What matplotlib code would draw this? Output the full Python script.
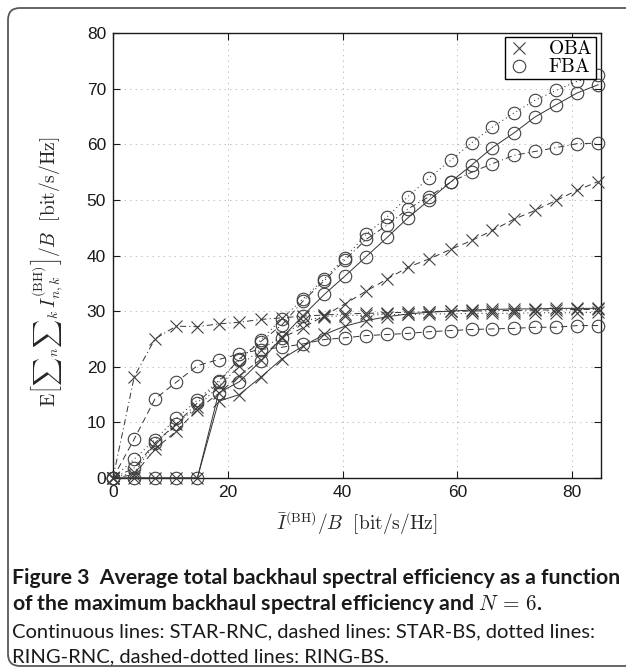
import matplotlib
matplotlib.use("Agg")
import matplotlib.pyplot as plt
from matplotlib.lines import Line2D
from matplotlib.patches import FancyBboxPatch

plt.rcParams["mathtext.fontset"] = "cm"
plt.rcParams["font.family"] = ["Liberation Sans", "DejaVu Sans"]
plt.rcParams["lines.scale_dashes"] = False

# maximum backhaul spectral efficiency [bit/s/Hz]
x_vals = [0, 3.7, 7.3, 11.0, 14.7, 18.4, 22.0, 25.7, 29.4, 33.1, 36.8, 40.4,
          44.1, 47.8, 51.4, 55.1, 58.8, 62.5, 66.1, 69.8, 73.5, 77.2, 80.8, 84.5]

star_rnc_fba = [0, 0, 0, 0, 0, 15.3, 17.3, 21.0, 25.2, 29.2, 33.0, 36.3,
                39.8, 43.3, 46.8, 50.0, 53.2, 56.3, 59.4, 62.0, 64.9, 67.1, 69.2, 70.7]
star_rnc_oba = [0, 0, 0, 0, 0, 13.8, 15.0, 18.1, 21.4, 23.7, 25.8, 27.3,
                28.3, 29.0, 29.5, 29.8, 30.0, 30.2, 30.3, 30.4, 30.4, 30.5, 30.5, 30.5]
star_bs_fba = [0, 7.0, 14.2, 17.2, 20.2, 21.3, 22.3, 23.1, 23.5, 24.1, 24.9, 25.2,
               25.6, 25.8, 26.0, 26.3, 26.5, 26.7, 26.8, 26.9, 27.1, 27.1, 27.4, 27.4]
star_bs_oba = [0, 0.6, 5.2, 8.4, 12.3, 15.2, 18.4, 21.3, 25.2, 27.0, 29.2, 31.3,
               33.6, 35.8, 37.9, 39.4, 41.1, 42.7, 44.5, 46.5, 48.1, 49.9, 51.7, 53.3]
ring_rnc_fba = [0, 3.4, 6.9, 10.7, 14.0, 17.5, 21.2, 24.8, 28.6, 32.2, 35.8, 39.6,
                43.8, 47.0, 50.6, 54.0, 57.1, 60.3, 63.1, 65.6, 67.9, 69.7, 71.3, 72.4]
ring_rnc_oba = [0, 1.0, 6.2, 9.7, 12.8, 16.5, 20.1, 23.1, 25.4, 28.2, 29.0, 29.2,
                29.3, 29.4, 29.4, 29.5, 29.5, 29.6, 29.6, 29.6, 29.7, 29.7, 29.7, 29.8]
ring_bs_fba = [0, 1.8, 6.3, 9.7, 13.5, 17.2, 21.4, 24.5, 27.5, 31.8, 35.5, 39.2,
               42.9, 45.5, 48.4, 50.6, 53.2, 55.0, 56.5, 58.0, 58.7, 59.4, 60.1, 60.2]
ring_bs_oba = [0, 18.2, 25.0, 27.3, 27.2, 27.7, 28.0, 28.5, 28.8, 29.1, 29.3, 29.5,
               29.6, 29.7, 29.8, 29.9, 30.0, 30.0, 30.1, 30.1, 30.2, 30.2, 30.3, 30.3]

x_ticks = [0, 20, 40, 60, 80]
y_ticks = [0, 10, 20, 30, 40, 50, 60, 70, 80]

styles = {
    "solid": "-",
    "dashed": (0, (4.5, 3)),
    "dotted": (0, (0.8, 2.2)),
    "dashdot": (0, (4.5, 2.2, 0.8, 2.2)),
}

series = [
    (star_rnc_oba, "solid", "x"), (star_rnc_fba, "solid", "o"),
    (star_bs_oba, "dashed", "x"), (star_bs_fba, "dashed", "o"),
    (ring_rnc_oba, "dotted", "x"), (ring_rnc_fba, "dotted", "o"),
    (ring_bs_oba, "dashdot", "x"), (ring_bs_fba, "dashdot", "o"),
]

W, H = 626, 669
fig = plt.figure(figsize=(W / 100, H / 100), dpi=100)
ax = fig.add_axes([113 / W, 1 - 478 / H, 488 / W, 445 / H])

for y, ls, m in series:
    ax.plot(x_vals, y, linestyle=styles[ls], color="0.2", lw=0.7,
            marker=m, ms=9 if m == "o" else 8, mfc="none", mec="0.25", mew=0.8,
            clip_on=False, zorder=3)

ax.set_xlim(0, 85)
ax.set_ylim(0, 80)
ax.set_xticks(x_ticks)
ax.set_yticks(y_ticks)
ax.grid(True, color="0.75", linestyle=(0, (1, 3)), lw=0.7)
ax.tick_params(direction="in", top=True, right=True, length=5, width=0.8,
               labelsize=12.5, pad=5, colors="0.1")
for s in ax.spines.values():
    s.set_linewidth(1.0)
    s.set_color("0.1")

handles = [Line2D([], [], ls="none", marker="x", ms=8, mec="0.25", mew=0.8),
           Line2D([], [], ls="none", marker="o", ms=9, mfc="none", mec="0.25", mew=0.8)]
leg = ax.legend(handles, [r"$\mathrm{OBA}$", r"$\mathrm{FBA}$"], loc="upper right",
                bbox_to_anchor=(0.99, 0.99), borderaxespad=0, fancybox=False,
                edgecolor="black", framealpha=1, fontsize=14, handlelength=1.2,
                handletextpad=0.9, labelspacing=0.0, borderpad=0.15)
leg.get_frame().set_linewidth(1.0)

fig.text(357 / W, 1 - 523 / H, r"$\bar{I}^{(\mathrm{BH})}/B\ \ [\mathrm{bit/s/Hz}]$",
         ha="center", va="center", fontsize=14, color="0.15")
fig.text(47 / W, 1 - 272 / H,
         r"$\mathrm{E}\left[{\sum}_n{\sum}_k\, I_{n,k}^{(\mathrm{BH})}\right]/B\ \ [\mathrm{bit/s/Hz}]$",
         ha="center", va="center", rotation=90, fontsize=14, color="0.15")

# caption
cap = [
    ("Figure 3  Average total backhaul spectral efficiency as a function", "bold", 578, 620),
    (r"of the maximum backhaul spectral efficiency and $N\,=\,6$.", "bold", 604, None),
    ("Continuous lines: STAR-RNC, dashed lines: STAR-BS, dotted lines:", "normal", 632, 594),
    ("RING-RNC, dashed-dotted lines: RING-BS.", "normal", 657, None),
]
renderer = fig.canvas.get_renderer()
sizes = {}
for text, weight, ypix, right in cap:
    fs = sizes.get(weight, 13)
    t = fig.text(12 / W, 1 - ypix / H, text, fontsize=fs, fontweight=weight,
                 family=["Lato", "DejaVu Sans"], ha="left", va="center", color="0.1")
    if right is not None:
        w = t.get_window_extent(renderer).width
        fs = fs * (right - 12) / w
        t.set_fontsize(fs)
        sizes[weight] = fs

border = FancyBboxPatch((8, 3), 700, 658, boxstyle="round,pad=0,rounding_size=12",
                        transform=None, fill=False, edgecolor="0.35", lw=1.3)
fig.add_artist(border)

fig.savefig("out.png", dpi=100)
